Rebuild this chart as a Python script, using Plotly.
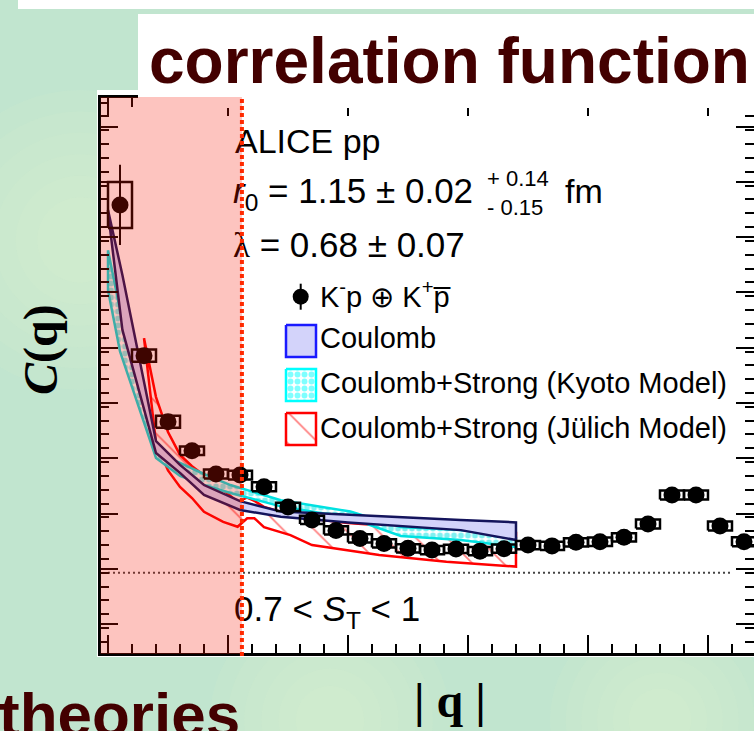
import plotly.graph_objects as go

W, H = 754, 731

# ---------------- data: K-p correlation function ----------------
q_data = [5, 15, 25, 35, 45, 55, 65, 75, 85, 95, 105, 115, 125, 135,
          145, 155, 165, 175, 185, 195, 205, 215, 225, 235, 245, 255, 265]
C_data = [2.330, 1.785, 1.546, 1.441, 1.357, 1.353, 1.311, 1.238, 1.191,
          1.153, 1.124, 1.106, 1.088, 1.082, 1.086, 1.078, 1.087, 1.100,
          1.097, 1.110, 1.112, 1.128, 1.176, 1.281, 1.281, 1.169, 1.112]
stat_err = [0.145, 0.025, 0.02, 0.015, 0.012, 0.012, 0.012, 0.01, 0.01,
            0.01, 0.01, 0.01, 0.01, 0.01, 0.01, 0.01, 0.01, 0.01, 0.01,
            0.01, 0.01, 0.01, 0.012, 0.015, 0.015, 0.012, 0.012]
sys_err = [0.083, 0.022, 0.022, 0.015, 0.016, 0.016, 0.016, 0.015, 0.015,
           0.015, 0.015, 0.015, 0.015, 0.015, 0.015, 0.015, 0.015, 0.015,
           0.015, 0.015, 0.015, 0.015, 0.016, 0.016, 0.016, 0.016, 0.016]
bin_half = 5

# ---------------- model bands ----------------
q_coul = [0, 6, 20, 30, 40, 55, 72, 100, 147, 170]
coul_hi = [2.312, 2.077, 1.476, 1.390, 1.317, 1.259, 1.221, 1.209, 1.191, 1.182]
coul_lo = [2.305, 1.878, 1.433, 1.361, 1.281, 1.227, 1.202, 1.182, 1.154, 1.118]

q_kyoto = [0, 5, 20, 30, 40, 51, 72, 101, 122, 147, 170]
kyoto_hi = [2.166, 1.950, 1.433, 1.397, 1.357, 1.317, 1.262, 1.221, 1.165, 1.154, 1.125]
kyoto_lo = [2.022, 1.800, 1.415, 1.350, 1.317, 1.288, 1.240, 1.198, 1.133, 1.118, 1.093]

q_jul = [15, 20, 25, 30, 35, 40, 48, 54, 58, 61, 65, 76, 85, 100, 113, 141, 170]
jul_hi = [1.848, 1.635, 1.509, 1.426, 1.385, 1.353, 1.300, 1.256, 1.272, 1.260,
          1.238, 1.210, 1.195, 1.180, 1.172, 1.158, 1.144]
jul_lo = [1.841, 1.469, 1.370, 1.310, 1.270, 1.220, 1.184, 1.166, 1.197, 1.197,
          1.165, 1.136, 1.100, 1.080, 1.064, 1.040, 1.022]

q_cut = 55.8          # upper edge of the shaded low-q region
C_base = 1.0          # baseline

X_RANGE = [-3.125, 269.17]
Y_RANGE = [0.7114, 2.7168]

# colours
BG_GREEN = "#c1e5cf"
MAROON = "#430000"
COUL_FILL = "#d3d3fa"
COUL_LINE = "#14145c"
CYAN = "#00e1e1"
RED = "#ff0000"

fig = go.Figure()


def add_band(q, lo, hi, line_color, fillcolor=None, pattern=None):
    xs = list(q) + list(q)[::-1] + [q[0]]
    ys = list(hi) + list(lo)[::-1] + [hi[0]]
    fig.add_trace(go.Scatter(
        x=xs, y=ys, mode="lines", fill="toself",
        line=dict(color=line_color, width=2.5),
        fillcolor=fillcolor, fillpattern=pattern,
        hoverinfo="skip", showlegend=False))


add_band(q_jul, jul_lo, jul_hi, RED, fillcolor="rgba(0,0,0,0)",
         pattern=dict(shape="\\", fgcolor=RED, bgcolor="rgba(0,0,0,0)",
                      size=22, solidity=0.08))
add_band(q_kyoto, kyoto_lo, kyoto_hi, CYAN, fillcolor="rgba(0,0,0,0)",
         pattern=dict(shape=".", fgcolor=CYAN, bgcolor="white",
                      size=7, solidity=0.55))
add_band(q_coul, coul_lo, coul_hi, COUL_LINE, fillcolor=COUL_FILL)

# systematic boxes
bx, by = [], []
for q, c, s in zip(q_data, C_data, sys_err):
    bx += [q - bin_half, q + bin_half, q + bin_half, q - bin_half, q - bin_half, None]
    by += [c - s, c - s, c + s, c + s, c - s, None]
fig.add_trace(go.Scatter(x=bx, y=by, mode="lines",
                         line=dict(color="black", width=2.5),
                         hoverinfo="skip", showlegend=False))

# data points with statistical errors
fig.add_trace(go.Scatter(
    x=q_data, y=C_data, mode="markers",
    marker=dict(size=17, color="black"),
    error_y=dict(type="data", array=stat_err, color="black", thickness=2, width=0),
    showlegend=False))

# invisible trace to activate the right-hand tick axis
fig.add_trace(go.Scatter(x=[X_RANGE[0]], y=[Y_RANGE[0]], yaxis="y2",
                         mode="markers", marker=dict(opacity=0),
                         hoverinfo="skip", showlegend=False))

# ---------------- pixel-space overlay (legend, labels) ----------------
def ov(**kw):
    kw.setdefault("hoverinfo", "skip")
    kw.setdefault("showlegend", False)
    return go.Scatter(xaxis="x3", yaxis="y3", **kw)


def rect(x0, y0, x1, y1):
    return [x0, x1, x1, x0, x0], [y0, y0, y1, y1, y0]


# legend swatches
xs, ys = rect(286, 325, 316, 357)
fig.add_trace(ov(x=xs, y=ys, mode="lines", fill="toself", fillcolor=COUL_FILL,
                 line=dict(color="#1a1aff", width=2.5)))
xs, ys = rect(286, 369, 316, 401)
fig.add_trace(ov(x=xs, y=ys, mode="lines", fill="toself", fillcolor="rgba(0,0,0,0)",
                 fillpattern=dict(shape=".", fgcolor="#00ffff", bgcolor="white",
                                  size=7, solidity=0.55),
                 line=dict(color="#00ffff", width=2.5)))
xs, ys = rect(286, 413, 316, 445)
fig.add_trace(ov(x=xs, y=ys, mode="lines", fill="toself", fillcolor="rgba(0,0,0,0)",
                 fillpattern=dict(shape="\\", fgcolor=RED, bgcolor="white",
                                  size=22, solidity=0.08),
                 line=dict(color=RED, width=2.5)))
fig.add_trace(ov(x=[300.7], y=[296.7], mode="markers",
                 marker=dict(size=16, color="black"),
                 error_y=dict(type="constant", value=13, color="black",
                              thickness=2, width=0)))

SANS = "Liberation Sans"
SERIF = "Liberation Serif"


def label(x, baseline, text, size, color="black"):
    fig.add_trace(ov(x=[x], y=[baseline - 0.3 * size], mode="text", text=[text],
                     textposition="middle right",
                     textfont=dict(family=SANS, size=size, color=color)))


label(235, 155, "ALICE pp", 34)
label(233, 205, "<i>r</i><sub>0</sub> = 1.15 ± 0.02", 35)
label(487, 187, "+ 0.14", 22)
label(487, 216, "- 0.15", 22)
label(565, 205, "fm", 34)
label(233, 259, "<span style='font-family:Liberation Serif'>λ</span> = 0.68 ± 0.07", 35)
label(320, 308, "K<sup>-</sup>p ⊕ K<sup>+</sup>p\u0305", 29)
label(320, 349, "Coulomb", 29)
label(320, 394, "Coulomb+Strong (Kyoto Model)", 29)
label(320, 439, "Coulomb+Strong (Jülich Model)", 29)
label(234, 623, "0.7 < <i>S</i><sub>T</sub> < 1", 35)

# ---------------- shapes ----------------
def px(x):
    return x / W


def py(y):
    return 1 - y / H


shapes = []
# soft light glows in the slide background
for cx, cy, r0 in [(80, 240, 150), (330, 720, 120), (660, 720, 110)]:
    for k in range(6):
        r = r0 * (1 - k / 7)
        shapes.append(dict(type="circle", xref="paper", yref="paper",
                           x0=px(cx - r), x1=px(cx + r), y0=py(cy + r), y1=py(cy - r),
                           fillcolor="rgba(228,245,205,0.10)", line_width=0,
                           layer="below"))
shapes += [
    # slide strip at the top
    dict(type="rect", xref="paper", yref="paper", x0=px(18), x1=1, y0=py(9), y1=1,
         fillcolor="white", line_width=0, layer="below"),
    # figure frame
    dict(type="rect", xref="paper", yref="paper", x0=px(97), x1=1, y0=py(657), y1=py(90),
         fillcolor="white", line_width=0, layer="below"),
    # baseline
    dict(type="line", xref="x", yref="y", x0=0, x1=260, y0=C_base, y1=C_base,
         line=dict(color="#444444", width=2, dash="2px,3px"), layer="below"),
    # title box
    dict(type="rect", xref="paper", yref="paper", x0=px(138), x1=1, y0=py(108), y1=py(14),
         fillcolor="white", line_width=0, layer="above"),
    # shaded low-q region
    dict(type="rect", xref="x", yref="paper", x0=X_RANGE[0] - 0.7, x1=q_cut,
         y0=py(654), y1=py(97), fillcolor="rgba(247,20,0,0.25)", line_width=0,
         layer="above"),
    dict(type="line", xref="x", yref="paper", x0=q_cut, x1=q_cut, y0=py(656), y1=py(97),
         line=dict(color="#ff2a00", width=4, dash="4px,3px"), layer="above"),
]

annotations = [
    dict(xref="paper", yref="paper", x=px(147), y=py(61), xanchor="left", yanchor="middle",
         text="<b>correlation function</b>", showarrow=False,
         font=dict(family=SANS, size=64, color=MAROON)),
    dict(xref="paper", yref="paper", x=px(-3), y=py(714), xanchor="left", yanchor="middle",
         text="<b>theories</b>", showarrow=False,
         font=dict(family=SANS, size=62, color=MAROON)),
    dict(xref="paper", yref="paper", x=px(41), y=py(350), xanchor="center", yanchor="middle",
         text="<b><i>C</i>(q)</b>", textangle=-90, showarrow=False,
         font=dict(family=SERIF, size=48, color="black")),
    dict(xref="paper", yref="paper", x=px(450), y=py(700), xanchor="center", yanchor="middle",
         text="<b>| q |</b>", showarrow=False,
         font=dict(family=SERIF, size=48, color="black")),
]

tick_common = dict(ticks="inside", ticklen=18, tickwidth=2, tickcolor="black",
                   showticklabels=False, showgrid=False, zeroline=False)

fig.update_layout(
    width=W, height=H, margin=dict(l=0, r=0, t=0, b=0),
    paper_bgcolor=BG_GREEN, plot_bgcolor="rgba(0,0,0,0)",
    showlegend=False,
    xaxis=dict(domain=[100.5 / W, 1], range=X_RANGE, showline=True, linecolor="black",
               linewidth=2.5, mirror="ticks", tick0=0, dtick=50,
               minor=dict(ticks="inside", dtick=10, ticklen=9, tickwidth=2,
                          tickcolor="black", showgrid=False),
               **tick_common),
    yaxis=dict(domain=[1 - 652.5 / H, 1 - 98 / H], range=Y_RANGE, showline=True,
               linecolor="black", linewidth=2.5, tick0=1.0134, dtick=0.2,
               minor=dict(ticks="inside", dtick=0.05, ticklen=9, tickwidth=2,
                          tickcolor="black", showgrid=False),
               **tick_common),
    yaxis2=dict(overlaying="y", side="right", range=Y_RANGE, showline=False,
                tick0=1.0134, dtick=0.2,
                minor=dict(ticks="inside", dtick=0.05, ticklen=9, tickwidth=2,
                           tickcolor="black", showgrid=False),
                **tick_common),
    xaxis3=dict(domain=[0, 1], range=[0, W], visible=False, anchor="y3"),
    yaxis3=dict(domain=[0, 1], range=[H, 0], visible=False, anchor="x3"),
    shapes=shapes,
    annotations=annotations,
)

fig.write_html("out.html")
